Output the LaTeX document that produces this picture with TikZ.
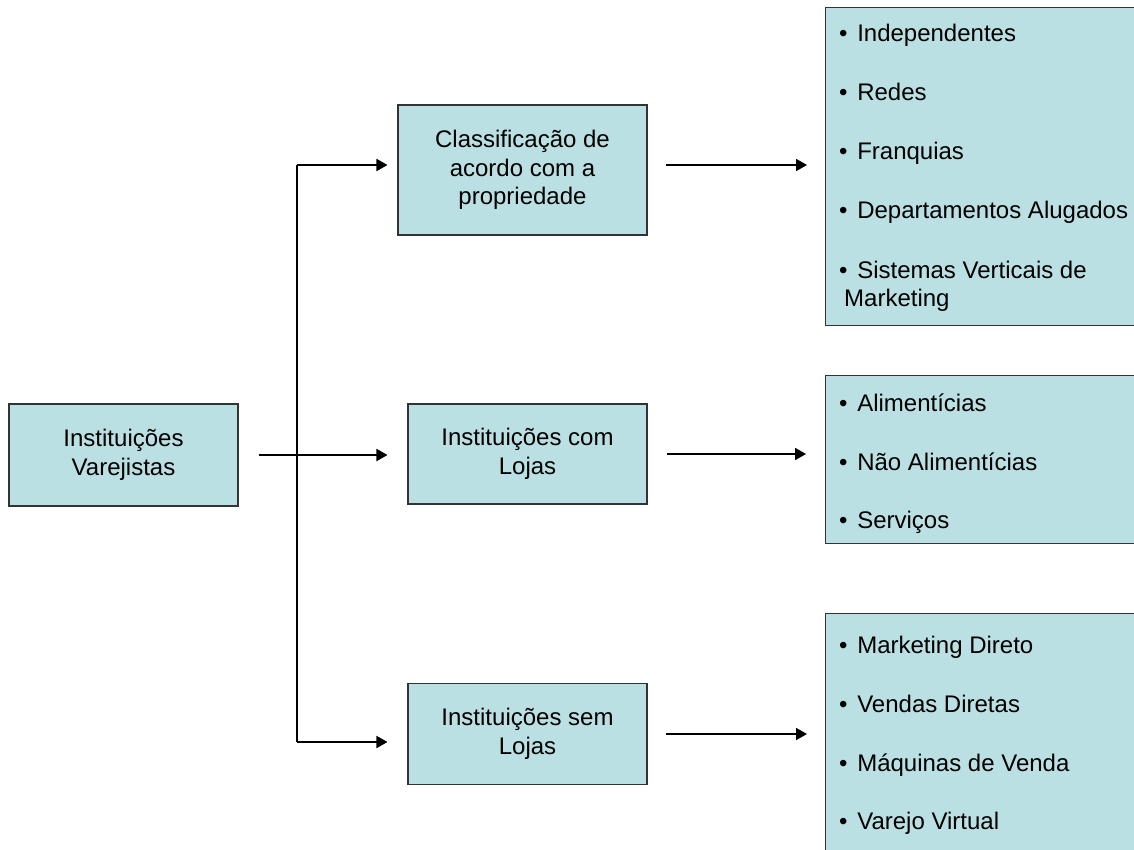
\documentclass[tikz,border=0pt]{standalone}
\usepackage{fontspec}
\setmainfont{Liberation Sans}
\usetikzlibrary{arrows.meta}
\definecolor{boxfill}{HTML}{BBE0E3}
\newcommand\itembul{•\kern3pt\ }
\tikzset{
  box/.style={draw=black!80, line width=1.1pt, fill=boxfill, inner sep=0pt, align=center,
    font=\fontsize{24}{28.5}\selectfont},
  item/.style={anchor=base west, inner sep=0pt, font=\fontsize{24}{28.5}\selectfont},
  arr/.style={line width=1.8pt, -{Triangle[length=11pt,width=12pt]}},
  trunk/.style={line width=1.4pt}
}
\begin{document}
\begin{tikzpicture}[x=1pt,y=-1pt]
\clip (0,0) rectangle (1134,850);
\fill[white] (0,0) rectangle (1134,850);
% left
\node[box, minimum width=229pt, minimum height=102pt] (L) at (123.5,455) {Instituições\\Varejistas};
% middle
\node[box, minimum width=249pt, minimum height=130pt] (A) at (522.5,170) {Classificação de\\acordo com a\\propriedade};
\node[box, minimum width=239pt, minimum height=100pt] (B) at (527.5,454) {Instituições com\\Lojas};
\node[box, minimum width=239pt, minimum height=101pt] (C) at (527.5,734) {Instituições sem\\Lojas};
% right
\node[box, anchor=north west, minimum width=330pt, minimum height=318pt] (RA) at (825,7) {};
\node[box, anchor=north west, minimum width=330pt, minimum height=168pt] (RB) at (825,375) {};
\node[box, anchor=north west, minimum width=330pt, minimum height=260pt] (RC) at (825,613) {};
% items
\node[item] (ra1) at (839,42) {\itembul Independentes};
\node[item] (ra2) at (839,101) {\itembul Redes};
\node[item] (ra3) at (839,160) {\itembul Franquias};
\node[item] (ra4) at (839,219) {\itembul Departamentos Alugados};
\node[item] (ra5) at (839,278) {\itembul Sistemas Verticais de};
\node[item] (ra6) at (844,306) {Marketing};
\node[item] (rb1) at (839,411) {\itembul Alimentícias};
\node[item] (rb2) at (839,470) {\itembul Não Alimentícias};
\node[item] (rb3) at (839,528) {\itembul Serviços};
\node[item] (rc1) at (839,653) {\itembul Marketing Direto};
\node[item] (rc2) at (839,712) {\itembul Vendas Diretas};
\node[item] (rc3) at (839,771) {\itembul Máquinas de Venda};
\node[item] (rc4) at (839,829) {\itembul Varejo Virtual};
% connectors
\coordinate (j1) at (297,165);
\coordinate (j3) at (297,742);
\draw[trunk] (j1) -- (j3);
\draw[arr, shorten <=20pt, shorten >=20pt] (L.east) -- (L.east -| B.west);
\draw[arr, shorten >=10pt] (j1) -- (j1 -| A.west);
\draw[arr, shorten >=20pt] (j3) -- (j3 -| C.west);
\draw[arr, shorten <=18pt, shorten >=18pt] (A.east |- j1) -- (RA.west |- j1);
\draw[arr, shorten <=19pt, shorten >=19pt] (B.east) -- (B.east -| RB.west);
\draw[arr, shorten <=18pt, shorten >=18pt] (C.east) -- (C.east -| RC.west);
\end{tikzpicture}
\end{document}
